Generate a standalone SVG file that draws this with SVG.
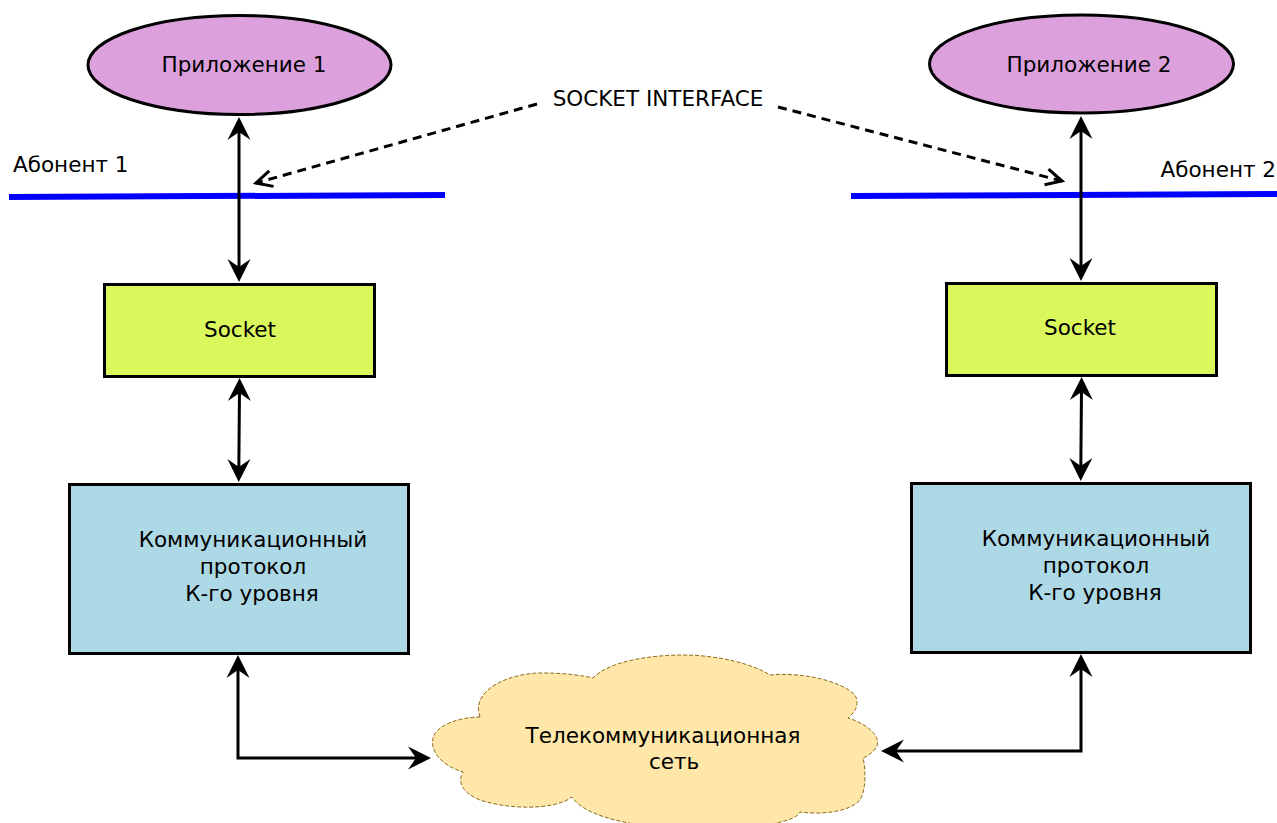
<svg xmlns="http://www.w3.org/2000/svg" width="1277" height="823" viewBox="0 0 1277 823">
<style>
text{font-family:"DejaVu Sans","Liberation Sans",sans-serif;font-size:21.5px;fill:#000}
.c{text-anchor:middle}
.ell{fill:#dca0dc;stroke:#000;stroke-width:3}
.sock{fill:#daf75c;stroke:#000;stroke-width:3}
.proto{fill:#add8e6;stroke:#000;stroke-width:3}
.blue{stroke:#0000ff;stroke-width:6;fill:none}
.arr{stroke:#000;stroke-width:3;fill:none;marker-start:url(#ah);marker-end:url(#ah)}
.dash{stroke:#000;stroke-width:3;fill:none;stroke-dasharray:9 6;marker-end:url(#oa)}
</style>
<defs>
<marker id="ah" markerUnits="userSpaceOnUse" viewBox="-16 -13 28 26" markerWidth="28" markerHeight="26" refX="0" refY="0" orient="auto-start-reverse">
<path d="M10,0 L-13,-11.5 L-5,0 L-13,11.5 Z" fill="#000"/>
</marker>
<marker id="oa" markerUnits="userSpaceOnUse" viewBox="-20 -12 24 24" markerWidth="24" markerHeight="24" refX="0" refY="0" orient="auto">
<path d="M-16,-8 L0,0 L-16,8" fill="none" stroke="#000" stroke-width="3"/>
</marker>
</defs>

<g id="lines">
<path class="blue" d="M9,197 L445,195"/>
<path class="blue" d="M851,196 L1277,194"/>
</g>

<g id="cloud">
<path d="M480,717 C470,690 510,672 545,673 C565,673 585,676 593,678 C610,660 655,655 683,655 C720,655 755,665 770,675 C800,672 840,680 855,695 C860,705 855,712 848,718 C870,725 882,738 876,748 C872,753 868,756 863,758 C866,770 866,790 860,800 C850,812 820,815 800,812 C790,835 600,840 572,797 C555,810 510,810 480,800 C460,792 458,780 463,772 C440,765 430,750 433,738 C436,725 460,717 480,717 Z" fill="#fee7a8" stroke="#8b6a1a" stroke-width="1" stroke-dasharray="4 2"/>
<text class="c" x="663" y="743">Телекоммуникационная</text>
<text class="c" x="674" y="769">сеть</text>
</g>

<g id="connectors">
<path class="arr" d="M239,127 L239,272"/>
<path class="arr" d="M1081,126 L1081,271"/>
<path class="arr" d="M239.5,388 L238.8,472"/>
<path class="arr" d="M1081.5,387 L1080.8,471"/>
<path class="arr" d="M238,665 L238,758 L421,758"/>
<path class="arr" d="M1081,664 L1081,751 L891,751"/>
<path class="dash" d="M537,104 L256,183"/>
<path class="dash" d="M778,107 L1062,181"/>
</g>

<g id="app1">
<ellipse class="ell" cx="239.5" cy="65" rx="151.5" ry="49.5"/>
<text class="c" x="244" y="72">Приложение 1</text>
</g>
<g id="app2">
<ellipse class="ell" cx="1081.5" cy="64" rx="152" ry="49"/>
<text class="c" x="1089" y="72">Приложение 2</text>
</g>

<g id="label-ab1"><text x="13" y="172">Абонент 1</text></g>
<g id="label-ab2"><text x="1276" y="177" text-anchor="end">Абонент 2</text></g>
<g id="label-si"><text x="658" y="106" class="c">SOCKET INTERFACE</text></g>

<g id="socket1">
<rect class="sock" x="104.5" y="284.5" width="270" height="92"/>
<text class="c" x="240" y="337">Socket</text>
</g>
<g id="socket2">
<rect class="sock" x="946.5" y="283.5" width="270" height="92"/>
<text class="c" x="1080" y="335">Socket</text>
</g>

<g id="proto1">
<rect class="proto" x="69.5" y="484.5" width="339" height="169"/>
<text class="c" x="253" y="547">Коммуникационный</text>
<text class="c" x="253" y="574">протокол</text>
<text class="c" x="252" y="601">К-го уровня</text>
</g>
<g id="proto2">
<rect class="proto" x="911.5" y="483.5" width="339" height="169"/>
<text class="c" x="1096" y="546">Коммуникационный</text>
<text class="c" x="1096" y="573">протокол</text>
<text class="c" x="1095" y="600">К-го уровня</text>
</g>
</svg>
